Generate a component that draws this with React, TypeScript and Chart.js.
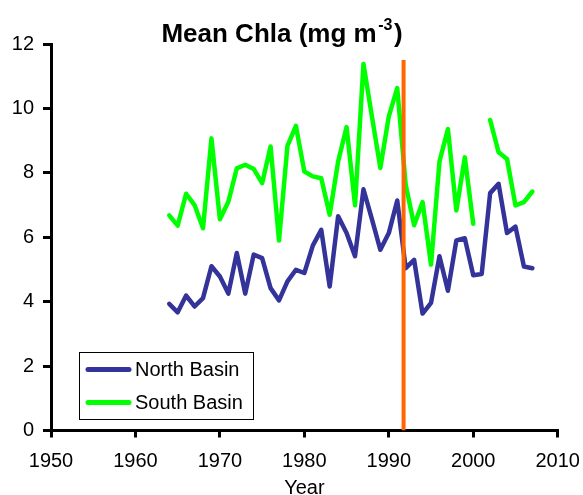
import React, { useEffect, useRef } from "react";
import { Chart, registerables } from "chart.js";

Chart.register(...registerables);

const years: number[] = [
  1964, 1965, 1966, 1967, 1968, 1969, 1970, 1971, 1972, 1973, 1974,
  1975, 1976, 1977, 1978, 1979, 1980, 1981, 1982, 1983, 1984, 1985,
  1986, 1987, 1988, 1989, 1990, 1991, 1992, 1993, 1994, 1995, 1996,
  1997, 1998, 1999, 2000, 2001, 2002, 2003, 2004, 2005, 2006, 2007,
];

const northBasin: (number | null)[] = [
  3.93, 3.67, 4.19, 3.85, 4.11, 5.1, 4.78, 4.25, 5.51, 4.25, 5.46,
  5.35, 4.42, 4.04, 4.63, 4.99, 4.89, 5.74, 6.23, 4.47, 6.65, 6.13,
  5.41, 7.49, 6.56, 5.61, 6.13, 7.14, 5.04, 5.3, 3.63, 3.96, 5.41,
  4.34, 5.9, 5.97, 4.82, 4.86, 7.37, 7.66, 6.13, 6.33, 5.09, 5.04,
];

const southBasin: (number | null)[] = [
  6.68, 6.36, 7.35, 7.0, 6.28, 9.07, 6.56, 7.1, 8.14, 8.25, 8.12,
  7.68, 8.82, 5.9, 8.84, 9.46, 8.04, 7.89, 7.83, 6.7, 8.35, 9.42,
  6.99, 11.38, 9.75, 8.15, 9.75, 10.63, 7.63, 6.37, 7.09, 5.15, 8.35,
  9.36, 6.83, 8.48, 6.42, null, 9.64, 8.64, 8.43, 6.99, 7.09, 7.42,
];

const markerYear: number[] = [1991.75, 1991.75];
const markerValues: number[] = [0, 11.5];

const xTicks: number[] = [1950, 1960, 1970, 1980, 1990, 2000, 2010];
const yTicks: number[] = [0, 2, 4, 6, 8, 10, 12];

const seriesNames: string[] = ["North Basin", "South Basin"];
const titleMain = "Mean Chla (mg m";
const titleSup = "-3";
const titleEnd = ")";
const xTitle = "Year";

const FONT = "'Liberation Sans', Arial, Helvetica, sans-serif";

export default function App() {
  const canvasRef = useRef<HTMLCanvasElement | null>(null);

  useEffect(() => {
    document.body.style.margin = "0";
    const canvas = canvasRef.current;
    if (!canvas) return;

    const overlay = {
      id: "overlay",
      afterDraw(chart: any) {
        const ctx = chart.ctx as CanvasRenderingContext2D;
        ctx.save();
        // Title with superscript
        ctx.fillStyle = "#000";
        ctx.textBaseline = "alphabetic";
        ctx.textAlign = "left";
        const mainFont = `bold 26px ${FONT}`;
        const supFont = `bold 16px ${FONT}`;
        ctx.font = mainFont;
        const w1 = ctx.measureText(titleMain).width;
        const w3 = ctx.measureText(titleEnd).width;
        ctx.font = supFont;
        const w2 = ctx.measureText(titleSup).width;
        const total = w1 + w2 + w3 + 3;
        let x = 282 - total / 2;
        const base = 42;
        ctx.font = mainFont;
        ctx.fillText(titleMain, x, base);
        x += w1 + 1.5;
        ctx.font = supFont;
        ctx.fillText(titleSup, x, base - 12);
        x += w2 + 1.5;
        ctx.font = mainFont;
        ctx.fillText(titleEnd, x, base);

        // Legend
        const lx = 79.5, ly = 352.5, lw = 174, lh = 67;
        ctx.fillStyle = "#fff";
        ctx.fillRect(lx, ly, lw, lh);
        ctx.strokeStyle = "#000";
        ctx.lineWidth = 1;
        ctx.strokeRect(lx, ly, lw, lh);
        const rows = [369.5, 402.5];
        chart.data.datasets.slice(0, 2).forEach((ds: any, i: number) => {
          ctx.strokeStyle = ds.borderColor;
          ctx.lineWidth = 5;
          ctx.lineCap = "round";
          ctx.beginPath();
          ctx.moveTo(88, rows[i]);
          ctx.lineTo(129, rows[i]);
          ctx.stroke();
          ctx.fillStyle = "#000";
          ctx.font = `20px ${FONT}`;
          ctx.textBaseline = "middle";
          ctx.fillText(ds.label, 135, rows[i] + 1);
        });
        ctx.restore();
      },
    };

    const chart = new Chart(canvas, {
      type: "line",
      data: {
        datasets: [
          {
            label: seriesNames[0],
            data: years.map((y, i) => ({ x: y, y: northBasin[i] })),
            borderColor: "#333399",
            borderWidth: 4.5,
            borderJoinStyle: "round",
            borderCapStyle: "round",
            pointRadius: 0,
            fill: false,
            spanGaps: false,
            tension: 0,
            order: 2,
          },
          {
            label: seriesNames[1],
            data: years.map((y, i) => ({ x: y, y: southBasin[i] })),
            borderColor: "#00FF00",
            borderWidth: 4.5,
            borderJoinStyle: "round",
            borderCapStyle: "round",
            pointRadius: 0,
            fill: false,
            spanGaps: false,
            tension: 0,
            order: 1,
          },
          {
            label: "marker",
            data: markerYear.map((y, i) => ({ x: y, y: markerValues[i] })),
            borderColor: "#FF6600",
            borderWidth: 4,
            pointRadius: 0,
            fill: false,
            order: 0,
          },
        ] as any,
      },
      options: {
        responsive: false,
        animation: false,
        layout: { padding: { top: 44, right: 25.3, left: 0, bottom: 0 } },
        plugins: {
          legend: { display: false },
          title: { display: false },
          tooltip: { enabled: false },
        },
        scales: {
          x: {
            type: "linear",
            min: xTicks[0],
            max: xTicks[xTicks.length - 1],
            afterBuildTicks: (scale: any) => {
              scale.ticks = xTicks.map((v) => ({ value: v }));
            },
            afterFit: (scale: any) => {
              scale.height = 64.5;
              scale.paddingRight = 0;
              scale.paddingLeft = 0;
            },
            ticks: {
              color: "#000",
              font: { family: FONT, size: 20 },
              padding: 12,
              maxRotation: 0,
              autoSkip: false,
              callback: (v: any) => String(v),
            },
            grid: {
              drawOnChartArea: false,
              drawTicks: true,
              tickLength: 7,
              color: "#000",
              lineWidth: 3,
            },
            border: { display: true, color: "#000", width: 3 },
            title: {
              display: true,
              text: xTitle,
              color: "#000",
              font: { family: FONT, size: 20, lineHeight: 1 },
              padding: { top: 0, bottom: -3 },
            },
          },
          y: {
            type: "linear",
            min: yTicks[0],
            max: yTicks[yTicks.length - 1],
            afterBuildTicks: (scale: any) => {
              scale.ticks = yTicks.map((v) => ({ value: v }));
            },
            afterFit: (scale: any) => {
              scale.width = 51;
              scale.paddingTop = 0;
              scale.paddingBottom = 0;
            },
            ticks: {
              color: "#000",
              font: { family: FONT, size: 20 },
              padding: 9,
              callback: (v: any) => String(v),
            },
            grid: {
              drawOnChartArea: false,
              drawTicks: true,
              tickLength: 8,
              color: "#000",
              lineWidth: 3,
            },
            border: { display: true, color: "#000", width: 3 },
          },
        },
      },
      plugins: [overlay],
    });

    return () => chart.destroy();
  }, []);

  return (
    <div style={{ width: 583, height: 495 }}>
      <canvas ref={canvasRef} width={583} height={495} style={{ display: "block" }} />
    </div>
  );
}
